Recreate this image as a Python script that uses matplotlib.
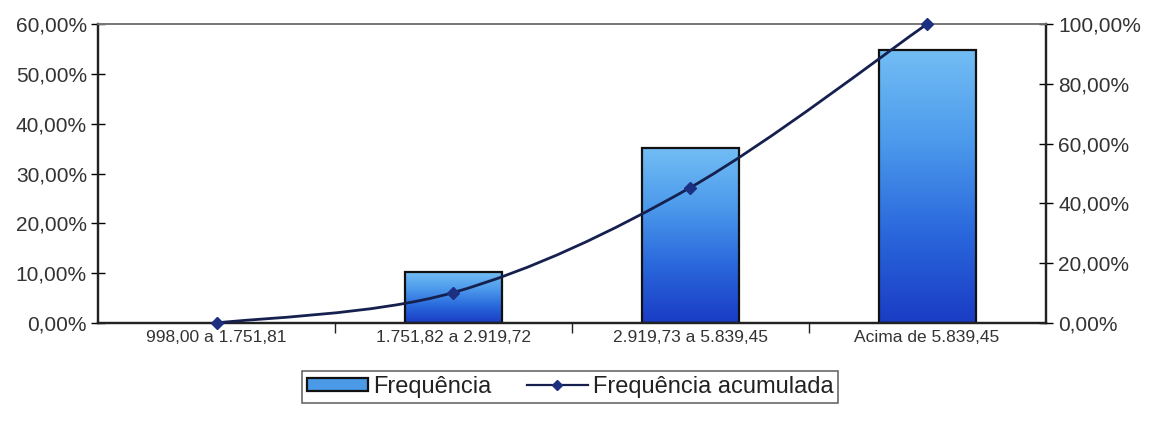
import numpy as np
import matplotlib
matplotlib.use("Agg")
from matplotlib import pyplot as plt
from matplotlib.path import Path
from matplotlib.patches import PathPatch, Rectangle
from matplotlib.colors import LinearSegmentedColormap
from matplotlib.ticker import FuncFormatter
from matplotlib.lines import Line2D

categories = ["998,00 a 1.751,81", "1.751,82 a 2.919,72",
              "2.919,73 a 5.839,45", "Acima de 5.839,45"]
frequencia = [0.0, 10.2, 35.1, 54.7]          # %
freq_acumulada = [0.0, 10.2, 45.3, 100.0]     # %

plt.rcParams['font.family'] = ['Liberation Sans', 'DejaVu Sans']

def pct(v, pos):
    return "{:.2f}%".format(v).replace(".", ",")

fig = plt.figure(figsize=(11.54, 4.29), dpi=100)
ax = fig.add_axes([0.085, 0.247, 0.821, 0.697])
ax2 = ax.twinx()

x = np.arange(len(categories))
bar_w = 0.41

# gradient bars
cmap = LinearSegmentedColormap.from_list(
    "grad", ["#1a3cc4", "#2a68dc", "#4c9aec", "#72bdf4"])
grad = np.linspace(0, 1, 256).reshape(-1, 1)
for xi, h in zip(x, frequencia):
    if h <= 0:
        continue
    rect = Rectangle((xi - bar_w/2, 0), bar_w, h, facecolor="none",
                     edgecolor="#111111", linewidth=1.6, zorder=3)
    ax.add_patch(rect)
    im = ax.imshow(grad, cmap=cmap, origin="lower", aspect="auto",
                   extent=(xi - bar_w/2, xi + bar_w/2, 0, h), zorder=2)
    im.set_clip_path(rect)

ax.set_xlim(-0.5, len(categories) - 0.5)
ax.set_ylim(0, 60)
ax.set_yticks(np.arange(0, 61, 10))
ax.yaxis.set_major_formatter(FuncFormatter(pct))
ax2.set_ylim(0, 100)
ax2.set_yticks(np.arange(0, 101, 20))
ax2.yaxis.set_major_formatter(FuncFormatter(pct))

# smoothed cumulative line (bezier through data points)
pts = np.column_stack([x, freq_acumulada]).astype(float)
verts = [pts[0]]
codes = [Path.MOVETO]
n = len(pts)
for i in range(n - 1):
    p0 = pts[max(i - 1, 0)]
    p1 = pts[i]
    p2 = pts[i + 1]
    p3 = pts[min(i + 2, n - 1)]
    c1 = p1 + (p2 - p0) / 6.0
    c2 = p2 - (p3 - p1) / 6.0
    verts += [c1, c2, p2]
    codes += [Path.CURVE4] * 3
ax2.add_patch(PathPatch(Path(verts, codes), facecolor="none",
                        edgecolor="#16204f", linewidth=2, zorder=4,
                        clip_on=False))
ax2.plot(x, freq_acumulada, linestyle="none", marker="D", markersize=6,
         color="#1c2f80", zorder=5, clip_on=False)

# ticks and spines
ax.set_xticks(x)
ax.set_xticklabels(categories, fontsize=12.5, color="#333333")
ax.set_xticks(np.arange(0.5, len(categories) - 1, 1), minor=True)
ax.tick_params(axis="x", which="major", length=0, pad=5)
ax.tick_params(axis="x", which="minor", length=7, direction="out",
               width=1, color="#222222")
ax.tick_params(axis="y", length=10, direction="inout", width=1,
               labelsize=15, labelcolor="#333333", pad=3)
ax2.tick_params(axis="y", length=10, direction="inout", width=1,
                labelsize=15, labelcolor="#333333", pad=4)
for a in (ax, ax2):
    for s in ("left", "right", "bottom"):
        a.spines[s].set_linewidth(1.6)
        a.spines[s].set_color("#222222")
    a.spines["top"].set_color("#777777")
    a.spines["top"].set_linewidth(1.2)

# legend
bar_handle = Rectangle((0, 0), 1, 1, facecolor="#4a9ae8",
                       edgecolor="#111111", linewidth=1.6)
line_handle = Line2D([], [], color="#16204f", linewidth=1.6, marker="D",
                     markersize=5, markerfacecolor="#1c2f80",
                     markeredgecolor="#1c2f80")
leg = fig.legend([bar_handle, line_handle],
                 ["Frequência", "Frequência acumulada"],
                 loc="upper center", bbox_to_anchor=(0.494, 0.135), ncol=2,
                 fontsize=17, frameon=True, fancybox=False,
                 handlelength=2.6, handleheight=0.5, handletextpad=0.2,
                 columnspacing=1.5, borderpad=0.2, borderaxespad=0)
leg.get_frame().set_edgecolor("#444444")
leg.get_frame().set_linewidth(1.2)
for t in leg.get_texts():
    t.set_color("#222222")

fig.savefig("out.png", dpi=100)
